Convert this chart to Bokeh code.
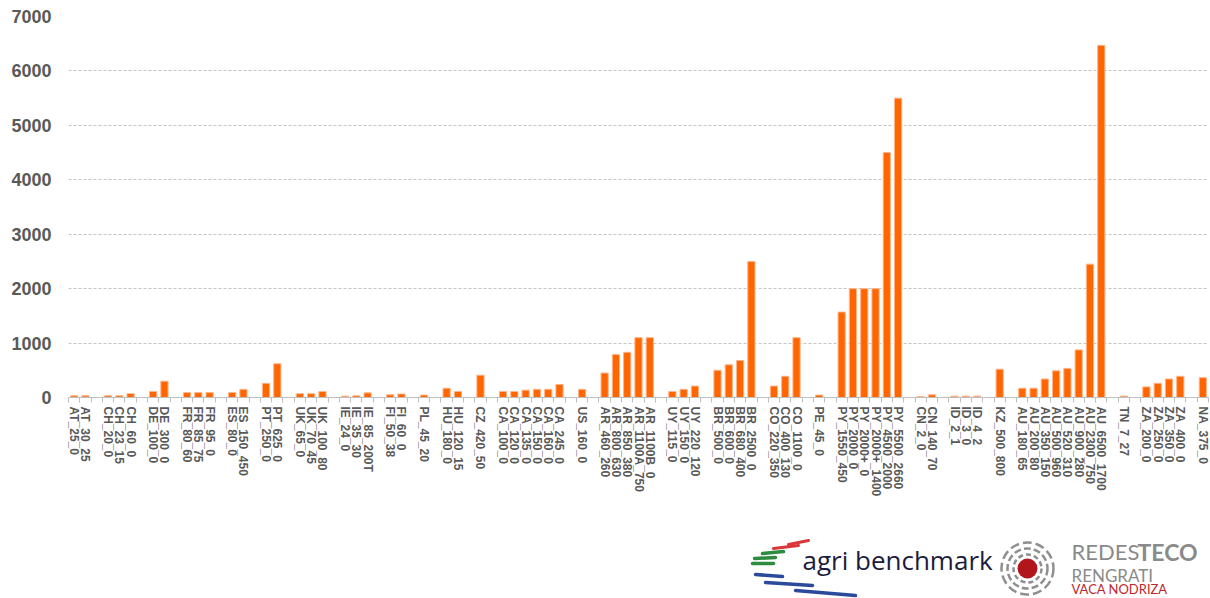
import math
from bokeh.plotting import figure
from bokeh.models import Range1d, FixedTicker, ColumnDataSource
from bokeh.layouts import column
from bokeh.embed import file_html
from bokeh.resources import INLINE
from bokeh.core.properties import value

# "" marks an empty slot (gap between country groups)
farm_labels = [
    "AT_25_0", "AT_30_25", "",
    "CH_20_0", "CH_23_15", "CH_60_0", "",
    "DE_100_0", "DE_300_0", "",
    "FR_80_60", "FR_85_75", "FR_95_0", "",
    "ES_80_0", "ES_150_450", "",
    "PT_250_0", "PT_625_0", "",
    "UK_65_0", "UK_70_45", "UK_100_80", "",
    "IE_24_0", "IE_35_30", "IE_85_200T", "",
    "FI_50_38", "FI_60_0", "",
    "PL_45_20", "",
    "HU_180_0", "HU_120_15", "",
    "CZ_420_50", "",
    "CA_100_0", "CA_120_0", "CA_135_0", "CA_150_0", "CA_160_0", "CA_245_0", "",
    "US_160_0", "",
    "AR_460_260", "AR_800_630", "AR_850_380", "AR_1100A_750", "AR_1100B_0", "",
    "UY_115_0", "UY_150_0", "UY_220_120", "",
    "BR_500_0", "BR_600_0", "BR_680_400", "BR_2500_0", "",
    "CO_220_350", "CO_400_130", "CO_1100_0", "",
    "PE_45_0", "",
    "PY_1550_450", "PY_2000_0", "PY_2000+_0", "PY_2000+_1400", "PY_4500_2000", "PY_5500_2660", "",
    "CN_2_0", "CN_140_70", "",
    "ID_2_1", "ID_3_0", "ID_4_2", "",
    "KZ_500_800", "",
    "AU_180_65", "AU_200_80", "AU_350_150", "AU_500_960", "AU_520_310", "AU_900_280", "AU_2300_750", "AU_6500_1700", "",
    "TN_7_27", "",
    "ZA_200_0", "ZA_250_0", "ZA_350_0", "ZA_400_0", "",
    "NA_375_0",
]

farm_values = [
    30, 30, None,
    30, 30, 70, None,
    110, 300, None,
    90, 90, 90, None,
    90, 150, None,
    260, 620, None,
    70, 70, 110, None,
    25, 30, 85, None,
    50, 65, None,
    45, None,
    170, 110, None,
    410, None,
    110, 110, 135, 150, 150, 240, None,
    150, None,
    450, 790, 830, 1100, 1100, None,
    110, 150, 210, None,
    500, 600, 680, 2500, None,
    210, 390, 1100, None,
    45, None,
    1570, 2000, 2000, 2000, 4500, 5500, None,
    20, 50, None,
    25, 25, 25, None,
    520, None,
    170, 170, 340, 490, 535, 875, 2450, 6470, None,
    25, None,
    195, 260, 340, 390, None,
    365,
]

y_ticks = [0, 1000, 2000, 3000, 4000, 5000, 6000, 7000]

xs = [i for i, lab in enumerate(farm_labels) if lab]
tops = [farm_values[i] for i in xs]
names = [farm_labels[i] for i in xs]
src = ColumnDataSource(dict(x=xs, top=tops, name=names))

n = len(farm_labels)

W = 1209
LEFT = 68
RIGHT_BORDER = 1
p = figure(width=W, height=520, output_backend="svg", toolbar_location=None,
           x_range=Range1d(-0.5, n - 0.5), y_range=Range1d(0, 7000),
           min_border_left=LEFT, min_border_right=RIGHT_BORDER, min_border_top=16,
           min_border_bottom=123)
p.outline_line_color = None
p.xgrid.grid_line_color = None
p.ygrid.grid_line_color = "#c4c4c4"
p.ygrid.grid_line_dash = "3 2"
p.ygrid.grid_line_width = 1
p.ygrid.ticker = FixedTicker(ticks=y_ticks[1:])

p.vbar(x="x", top="top", width=0.64, source=src,
       fill_color="#FF6600", line_color="#FFB489", line_width=1)

# y axis
p.yaxis.ticker = FixedTicker(ticks=y_ticks)
p.yaxis.axis_line_color = None
p.yaxis.major_tick_line_color = None
p.yaxis.minor_tick_line_color = None
p.yaxis.major_tick_out = 0
p.yaxis.major_tick_in = 0
p.yaxis.major_label_standoff = 17
p.yaxis.major_label_text_font = "Liberation Sans"
p.yaxis.major_label_text_font_style = "bold"
p.yaxis.major_label_text_font_size = "18px"
p.yaxis.major_label_text_color = "#595959"

# x axis
p.xaxis.ticker = FixedTicker(ticks=xs, minor_ticks=[i - 0.5 for i in range(n + 1)])
p.xaxis.major_label_overrides = {i: farm_labels[i] for i in xs}
p.xaxis.axis_line_color = "#bfbfbf"
p.xaxis.axis_line_width = 1
p.xaxis.major_tick_line_color = None
p.xaxis.major_tick_out = 0
p.xaxis.major_tick_in = 0
p.xaxis.minor_tick_line_color = "#bfbfbf"
p.xaxis.minor_tick_out = 5
p.xaxis.minor_tick_in = 0
p.xaxis.major_label_orientation = "vertical"
p.xaxis.major_label_standoff = 4
p.xaxis.major_label_text_font = "Liberation Sans"
p.xaxis.major_label_text_font_style = "bold"
p.xaxis.major_label_text_font_size = "12px"
p.xaxis.major_label_text_color = "#595959"

# ---- logo strip (decoration); its frame is aligned with the chart frame ----
LH = 78
TOP = 520
lg = figure(width=W, height=LH, output_backend="svg", toolbar_location=None,
            x_range=Range1d(LEFT, W - RIGHT_BORDER), y_range=Range1d(0, LH),
            min_border_left=LEFT, min_border_right=RIGHT_BORDER,
            min_border_top=0, min_border_bottom=0)
lg.axis.visible = False
lg.grid.visible = False
lg.outline_line_color = None

def Y(v):
    return TOP + LH - v

def TB(v, size):
    # text anchor correction (baseline in page pixels)
    return Y(v - 0.4 * size)

stripes = [
    (788, 544, 808, 540, "#d9383a", 3),
    (773, 548, 798, 545, "#d9383a", 3),
    (762, 553, 783, 551, "#2e8b3e", 3.5),
    (754, 558, 775, 557, "#2e8b3e", 3.5),
    (752, 563, 773, 563, "#2e8b3e", 3.5),
    (755, 574, 782, 576, "#2b4a9b", 3.5),
    (765, 582, 812, 585, "#2b4a9b", 3.5),
    (795, 590, 855, 595, "#2b4a9b", 3.5),
]
for x0, y0, x1, y1, c, w in stripes:
    lg.segment(x0=[x0], y0=[Y(y0)], x1=[x1], y1=[Y(y1)], line_color=c,
               line_width=w, line_cap="round")

lg.text(x=[802], y=[TB(570, 26)], text=["agri benchmark"], text_font=value("Open Sans"),
        text_font_size="26px", text_color="#1c1c3c", text_baseline="alphabetic")

for r, dash in [(14, "5 3"), (20, "7 3"), (26, "9 4")]:
    lg.circle(x=[1027], y=[Y(568)], radius=r, fill_color=None,
              line_color="#8f8f8f", line_width=2.5, line_dash=dash)
lg.circle(x=[1027], y=[Y(568)], radius=10, fill_color="#b3151d", line_color=None)

lg.text(x=[1071], y=[TB(560, 22)], text=["REDES"], text_font=value("Lato"),
        text_font_size="22px", text_color="#8a8a8a", text_baseline="alphabetic")
lg.text(x=[1137], y=[TB(560, 22)], text=["TECO"], text_font=value("Lato"),
        text_font_style="bold", text_font_size="23px", text_color="#8a8a8a",
        text_baseline="alphabetic")
lg.text(x=[1071], y=[TB(582, 17)], text=["RENGRATI"], text_font=value("Lato"),
        text_font_size="17px", text_color="#8a8a8a", text_baseline="alphabetic")
lg.text(x=[1071], y=[TB(594, 13)], text=["VACA NODRIZA"], text_font=value("Lato"),
        text_font_size="13px", text_color="#c0272d", text_baseline="alphabetic")

layout = column(p, lg, spacing=0)
open("out.html", "w").write(file_html(layout, INLINE))
